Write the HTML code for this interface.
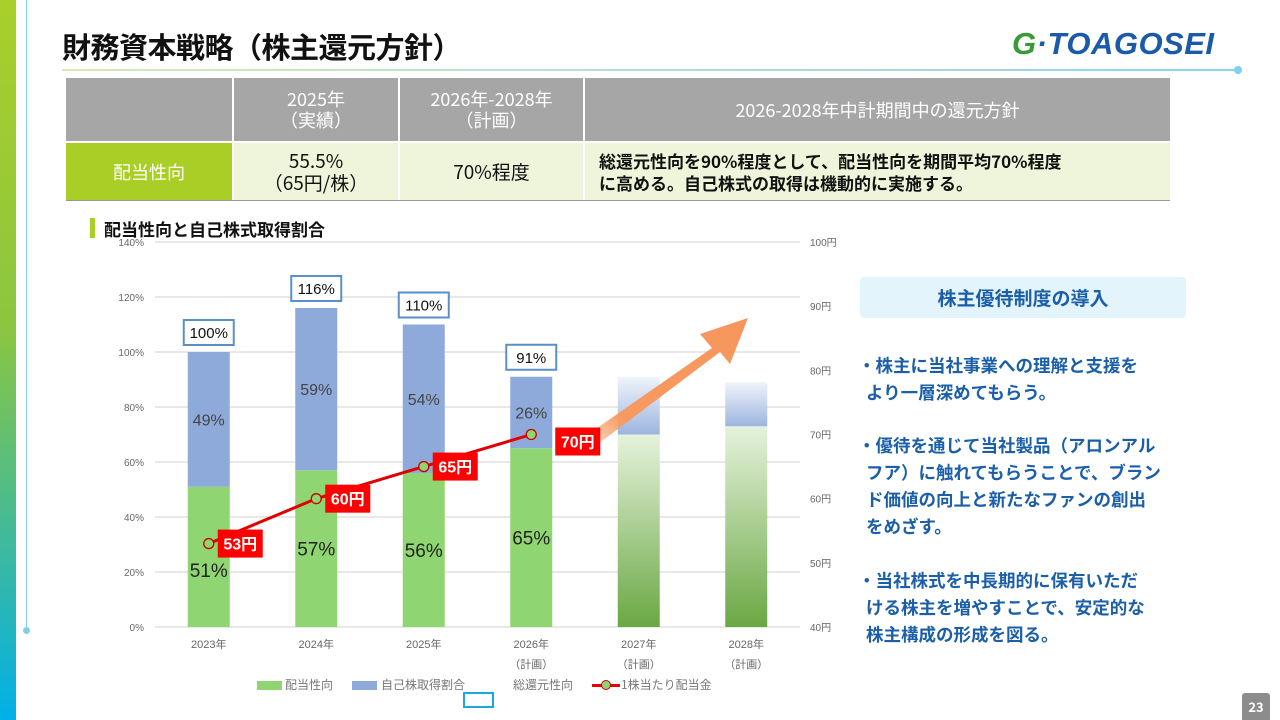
<!DOCTYPE html>
<html><head><meta charset="utf-8">
<style>
body{margin:0;width:1280px;height:720px;position:relative;overflow:hidden;background:#fff;font-family:"Noto Sans CJK JP","Liberation Sans",sans-serif;}
.abs{position:absolute}
.cell{position:absolute;display:flex;align-items:center;justify-content:center;text-align:center;box-sizing:border-box}
.bl{position:absolute;left:858px;color:#1b5fa9;font-size:17.5px;font-weight:bold;line-height:27px;white-space:pre}
</style></head><body>
<div class="abs" style="left:0;top:0;width:16px;height:720px;background:linear-gradient(#a9cf2a,#8cc63f 45%,#00b0e8)"></div>
<div class="abs" style="left:26px;top:0;width:1px;height:630px;background:#7fd0ee"></div>
<div class="abs" style="left:23px;top:627px;width:7px;height:7px;border-radius:50%;background:#7fd0ee"></div>
<div class="abs" style="left:62px;top:26px;font-size:29px;font-weight:bold;color:#111;letter-spacing:-0.5px;line-height:40px">財務資本戦略（株主還元方針）</div>
<div class="abs" style="left:1012px;top:26px;font-family:'Liberation Sans',sans-serif;font-size:31px;font-weight:bold;font-style:italic;color:#1a5aa8;letter-spacing:0.5px"><span style="color:#3a9a3a">G</span><span style="color:#1a5aa8">·</span>TOAGOSEI</div>
<div class="abs" style="left:62px;top:69px;width:1176px;height:2px;background:linear-gradient(90deg,#d8e8b8,#8fd3ee)"></div>
<div class="abs" style="left:1234px;top:66px;width:8px;height:8px;border-radius:50%;background:#7fd0ee"></div>

<div>
<div class="cell" style="left:66px;top:78px;width:166px;height:63px;background:#a6a6a6"></div>
<div class="cell" style="left:234px;top:78px;width:164px;height:63px;background:#a6a6a6;color:#fff;font-size:18px;line-height:21px">2025年<br>（実績）</div>
<div class="cell" style="left:400px;top:78px;width:183px;height:63px;background:#a6a6a6;color:#fff;font-size:18px;line-height:21px">2026年-2028年<br>（計画）</div>
<div class="cell" style="left:585px;top:78px;width:585px;height:63px;background:#a6a6a6;color:#fff;font-size:18px">2026-2028年中計期間中の還元方針</div>
<div class="cell" style="left:66px;top:143px;width:166px;height:57px;background:#a9cf27;color:#fff;font-size:18px">配当性向</div>
<div class="cell" style="left:234px;top:143px;width:164px;height:57px;background:#eef5da;color:#111;font-size:19px;line-height:22px">55.5%<br>（65円/株）</div>
<div class="cell" style="left:400px;top:143px;width:183px;height:57px;background:#eef5da;color:#111;font-size:19px">70%程度</div>
<div class="cell" style="left:585px;top:143px;width:585px;height:57px;background:#eef5da;color:#111;font-size:17px;line-height:22px;justify-content:flex-start;text-align:left;padding-left:14px;font-weight:bold">総還元性向を90%程度として、配当性向を期間平均70%程度<br>に高める。自己株式の取得は機動的に実施する。</div>
<div class="abs" style="left:66px;top:200px;width:1104px;height:1px;background:#999"></div>
</div>

<div class="abs" style="left:90px;top:218px;width:5px;height:20px;background:#a9cf27"></div>
<div class="abs" style="left:104px;top:216px;font-size:17px;font-weight:bold;color:#111">配当性向と自己株式取得割合</div>

<svg class="abs" style="left:0;top:0;font-family:'Liberation Sans','Noto Sans CJK JP',sans-serif" width="1280" height="720" id="chart">
<defs>
<linearGradient id="gp" x1="0" y1="0" x2="0" y2="1"><stop offset="0" stop-color="#e6f2dc"/><stop offset="1" stop-color="#6aa843"/></linearGradient>
<linearGradient id="bp" x1="0" y1="0" x2="0" y2="1"><stop offset="0" stop-color="#f0f4fb"/><stop offset="1" stop-color="#9db5df"/></linearGradient>
<linearGradient id="ar" x1="0" y1="1" x2="1" y2="0"><stop offset="0" stop-color="#f89a60" stop-opacity="0.2"/><stop offset="0.25" stop-color="#f89a60"/><stop offset="1" stop-color="#f6965c"/></linearGradient>
</defs>
<g id="grid"></g><g id="bars"></g>
<polygon points="580,440 712,348 700,334 748,318 730,364 720,352 590,450" fill="url(#ar)"/>
<g id="line"></g><g id="labels"></g>
</svg>

<div>
<div class="abs" style="left:257px;top:681px;width:25px;height:9px;background:#8fd672"></div>
<div class="abs" style="left:285px;top:676px;font-size:12px;color:#777">配当性向</div>
<div class="abs" style="left:352px;top:681px;width:25px;height:9px;background:#8eaadb"></div>
<div class="abs" style="left:381px;top:676px;font-size:12px;color:#777">自己株取得割合</div>
<div class="abs" style="left:513px;top:676px;font-size:12px;color:#777">総還元性向</div>
<div class="abs" style="left:592px;top:684px;width:28px;height:3px;background:#e00"></div>
<div class="abs" style="left:601px;top:680px;width:8px;height:8px;border-radius:50%;background:#8fd672;border:1px solid #c00"></div>
<div class="abs" style="left:621px;top:676px;font-size:12px;color:#777">1株当たり配当金</div>
<div class="abs" style="left:463px;top:692px;width:27px;height:12px;border:2px solid #19a8e0"></div>
</div>

<div class="cell" style="left:860px;top:277px;width:326px;height:41px;background:#e3f4fc;border-radius:4px;color:#1b5fa9;font-size:19px;font-weight:bold">株主優待制度の導入</div>
<div class="bl" style="top:352px">・株主に当社事業への理解と支援を
  より一層深めてもらう。</div>
<div class="bl" style="top:432px">・優待を通じて当社製品（アロンアル
  フア）に触れてもらうことで、ブラン
  ド価値の向上と新たなファンの創出
  をめざす。</div>
<div class="bl" style="top:567px">・当社株式を中長期的に保有いただ
  ける株主を増やすことで、安定的な
  株主構成の形成を図る。</div>
<div class="cell" style="left:1242px;top:693px;width:28px;height:27px;background:#8c8c8c;border-radius:3px 3px 0 0;color:#fff;font-size:13px;font-weight:bold">23</div>

<script>
const categories=["2023年","2024年","2025年","2026年","2027年","2028年"];
const subLabels=["","","","（計画）","（計画）","（計画）"];
const payout=[51,57,56,65,70,73];
const buyback=[49,59,54,26,21,16];
const totalLabels=["100%","116%","110%","91%",null,null];
const dividends=[53,60,65,70];
const leftTicks=[0,20,40,60,80,100,120,140];
const rightTicks=[40,50,60,70,80,90,100];
const NS="http://www.w3.org/2000/svg";
const X0=155,X1=800,Y0=627,Y1=242;
const band=(X1-X0)/categories.length;
const xc=i=>X0+band*(i+0.5);
const yL=v=>Y0-(v/140)*(Y0-Y1);
const yR=v=>Y0-((v-40)/60)*(Y0-Y1);
function mk(tag,at,parent,txt){const e=document.createElementNS(NS,tag);for(const k in at)e.setAttribute(k,at[k]);if(txt!=null)e.textContent=txt;parent.appendChild(e);return e;}
const G=document.getElementById('grid'),B=document.getElementById('bars'),L=document.getElementById('line'),T=document.getElementById('labels');
leftTicks.forEach(v=>{
 const l=mk('line',{x1:X0,x2:X1,y1:yL(v),y2:yL(v),stroke:'#d9d9d9','stroke-width':1.3},G);
 
 
 const t=mk('text',{x:X0-11,y:yL(v)+4,'text-anchor':'end','font-size':10,fill:'#666'},G,v+'%');
 
 
});
rightTicks.forEach(v=>{
 const t=mk('text',{x:X1+10,y:yR(v)+4,'font-size':10,fill:'#666'},G,v+'円');
 
 
});
const bw=42;
categories.forEach((c,i)=>{
 const x=xc(i)-bw/2, plan=i>=4;
 const g=mk('rect',{x:x,y:yL(payout[i]),width:bw,height:Y0-yL(payout[i]),fill:plan?'url(#gp)':'#8fd672'},B);
 
 
 const top=payout[i]+buyback[i];
 const b=mk('rect',{x:x,y:yL(top),width:bw,height:yL(payout[i])-yL(top),fill:plan?'url(#bp)':'#8eaadb'},B);
 
 
 const t=mk('text',{x:xc(i),y:648,'text-anchor':'middle','font-size':11,fill:'#666'},G,c);
 
 
 if(subLabels[i]){const s=mk('text',{x:xc(i),y:668,'text-anchor':'middle','font-size':11,fill:'#666'},G,subLabels[i]);
  
  }
 if(!plan){
  const off=i===0?13:0;
  const pl=mk('text',{x:xc(i),y:yL(payout[i]/2)+7+off,'text-anchor':'middle','font-size':19,fill:'#222'},T,payout[i]+'%');
  
  
  const bl=mk('text',{x:xc(i),y:yL(payout[i]+buyback[i]/2)+6,'text-anchor':'middle','font-size':16,fill:'#444'},T,buyback[i]+'%');
  
  
 }
 if(totalLabels[i]){
  const yy=yL(top)-32;
  const r=mk('rect',{x:xc(i)-25,y:yy,width:50,height:25,fill:'#fff',stroke:'#5a8fc8','stroke-width':2},T);
  
  
  const tt=mk('text',{x:xc(i),y:yy+18,'text-anchor':'middle','font-size':15,fill:'#111'},T,totalLabels[i]);
  
  
 }
});
const pts=dividends.map((d,i)=>[xc(i),yR(d)]);
const pl=mk('polyline',{points:pts.map(p=>p.join(',')).join(' '),fill:'none',stroke:'#e00000','stroke-width':3},L);


pts.forEach((p,i)=>{
 const c=mk('circle',{cx:p[0],cy:p[1],r:5,fill:'#8fd672',stroke:'#c00','stroke-width':1.3},L);
 
 
 const last=i===dividends.length-1;
 const bx=last?p[0]+24:p[0]+9, by=last?p[1]-7:p[1]-14;
 const r=mk('rect',{x:bx,y:by,width:45,height:28,fill:'#ff0000'},T);
 
 
 const t=mk('text',{x:bx+22.5,y:by+20,'text-anchor':'middle','font-size':16,'font-weight':'bold',fill:'#fff'},T,dividends[i]+'円');
 
 
});
</script>
</body></html>
